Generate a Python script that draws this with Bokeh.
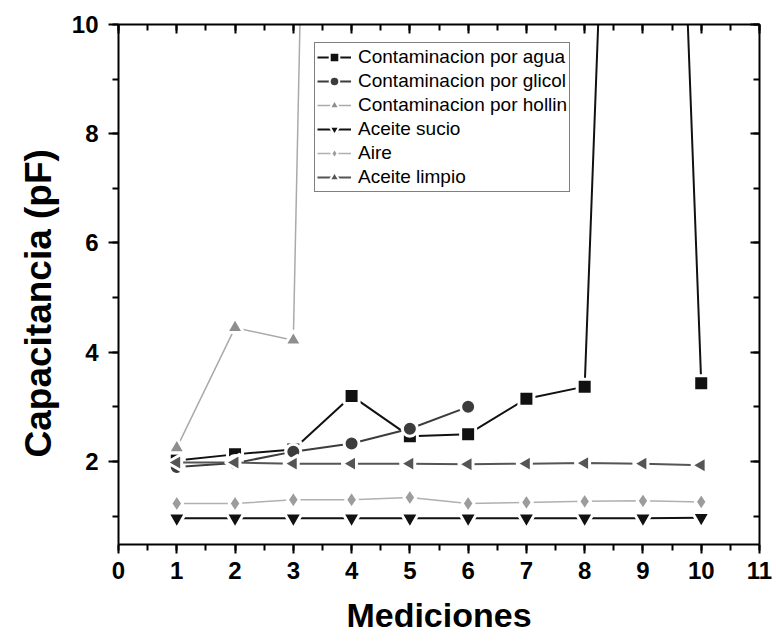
import math
from bokeh.plotting import figure
from bokeh.models import (LinearAxis, SingleIntervalTicker, Legend, LegendItem,
                          ColumnDataSource, Range1d, Title, CustomJSTickFormatter)
from bokeh.embed import file_html
from bokeh.resources import INLINE

# ---- data ----
mediciones = [1, 2, 3, 4, 5, 6, 7, 8, 9, 10]
agua = [2.02, 2.13, 2.22, 3.20, 2.46, 2.50, 3.15, 3.37, 32.0, 3.43]
glicol_x = [1, 2, 3, 4, 5, 6]
glicol = [1.90, 1.97, 2.18, 2.33, 2.60, 3.00]
hollin_x = [1, 2, 3, 4]
hollin = [2.25, 4.45, 4.22, 55.0]
sucio = [0.96, 0.96, 0.96, 0.96, 0.96, 0.96, 0.96, 0.96, 0.96, 0.97]
aire = [1.23, 1.23, 1.30, 1.30, 1.34, 1.23, 1.25, 1.27, 1.28, 1.26]
limpio = [1.98, 1.98, 1.96, 1.96, 1.96, 1.95, 1.96, 1.97, 1.96, 1.93]

labels = ["Contaminacion por agua", "Contaminacion por glicol",
          "Contaminacion por hollin", "Aceite sucio", "Aire", "Aceite limpio"]
x_title = "Mediciones"
y_title = "Capacitancia (pF)"

FONT = "Liberation Sans"

p = figure(width=776, height=643, x_range=Range1d(0, 11), y_range=Range1d(0.48, 10),
           output_backend="svg", toolbar_location=None,
           min_border_left=118, min_border_right=17, min_border_top=24,
           min_border_bottom=99, x_axis_location=None, y_axis_location=None)
p.grid.visible = False
p.outline_line_color = None
p.background_fill_color = "white"
p.border_fill_color = "white"

def style_axis(ax, show_labels, tick_in, tick_out):
    ax.axis_line_width = 2
    ax.axis_line_color = "black"
    ax.major_tick_line_width = 2
    ax.minor_tick_line_width = 2
    ax.major_tick_line_color = "black"
    ax.minor_tick_line_color = "black"
    ax.major_tick_in = tick_in
    ax.major_tick_out = tick_out
    ax.minor_tick_in = (tick_in + 1) // 2 + (1 if tick_in else 0)
    ax.minor_tick_out = (tick_out + 1) // 2 + (1 if tick_out else 0)
    ax.major_label_text_font = FONT
    ax.major_label_text_font_style = "bold"
    ax.major_label_text_font_size = "24px"
    ax.major_label_text_color = "black"
    if not show_labels:
        ax.formatter = CustomJSTickFormatter(code="return ''")
        ax.major_label_standoff = 0

xb = LinearAxis(ticker=SingleIntervalTicker(interval=1, num_minor_ticks=2),
                axis_label=x_title)
style_axis(xb, True, 0, 9)
xb.major_label_standoff = 8
xb.axis_label_text_font = FONT
xb.axis_label_text_font_style = "bold"
xb.axis_label_text_font_size = "34px"
xb.axis_label_text_color = "black"
xb.axis_label_standoff = 14
p.add_layout(xb, "below")

yl = LinearAxis(ticker=SingleIntervalTicker(interval=2, num_minor_ticks=2))
style_axis(yl, True, 0, 10)
yl.major_label_standoff = 10
p.add_layout(yl, "left")

yt = Title(text=y_title, align="left", offset=87, text_font=FONT,
           text_font_style="bold", text_font_size="37px", text_color="black",
           standoff=19)
p.add_layout(yt, "left")

xt = LinearAxis(ticker=SingleIntervalTicker(interval=1, num_minor_ticks=2))
style_axis(xt, False, 9, 0)
p.add_layout(xt, "above")

yr = LinearAxis(ticker=SingleIntervalTicker(interval=2, num_minor_ticks=2))
style_axis(yr, False, 9, 0)
p.add_layout(yr, "right")

series = [
    (mediciones, agua, "square", "#111111", "#111111", 2.0, 15, 0.0),
    (glicol_x, glicol, "circle", "#3c3c3c", "#3c3c3c", 2.0, 15, 0.0),
    (hollin_x, hollin, "triangle", "#8e8e8e", "#aaaaaa", 1.5, 17, 0.0),
    (mediciones, sucio, "inverted_triangle", "#111111", "#111111", 2.0, 18, 0.0),
    (mediciones, aire, "diamond", "#9c9c9c", "#b0b0b0", 1.5, 18, 0.0),
    (mediciones, limpio, "triangle", "#555555", "#555555", 2.0, 17, math.pi / 2),
]

items = []
nan = float("nan")
for (xs, ys, marker, mcol, lcol, lw, size, ang), lab in zip(series, labels):
    src = ColumnDataSource(dict(x=xs, y=ys))
    p.line("x", "y", source=src, line_color=lcol, line_width=lw)
    p.scatter("x", "y", source=src, marker=marker, size=size, angle=ang,
              fill_color=mcol, line_color="white", line_width=3)
    # legend sample glyphs (a single undrawn NaN point of their own)
    proxy = ColumnDataSource(dict(x=[nan], y=[nan], a=[ang]))
    lg_line = p.line("x", "y", source=proxy, line_color=lcol, line_width=lw)
    lg_mark = p.scatter("x", "y", source=proxy, marker=marker, angle="a",
                        fill_color=mcol, line_color="white", line_width=2)
    items.append(LegendItem(label=lab, renderers=[lg_line, lg_mark]))

legend = Legend(items=items, location=(196, 352))
legend.label_text_font = FONT
legend.label_text_font_size = "19px"
legend.label_text_color = "black"
legend.glyph_width = 34
legend.glyph_height = 24
legend.label_height = 24
legend.label_standoff = 7
legend.spacing = 0
legend.padding = 2
legend.margin = 0
legend.border_line_color = "black"
legend.border_line_width = 1.5
legend.background_fill_color = "white"
legend.background_fill_alpha = 1.0
p.add_layout(legend, "center")

open("out.html", "w").write(file_html(p, INLINE))
